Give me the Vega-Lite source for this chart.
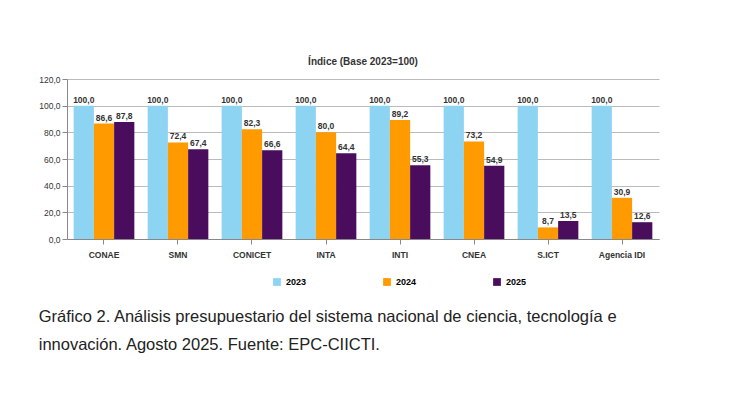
{
  "$schema": "https://vega.github.io/schema/vega-lite/v6.json",
  "background": "white",
  "padding": {"left": 38, "top": 57, "right": 10, "bottom": 5},
  "config": {
    "locale": {"number": {"decimal": ",", "thousands": ".", "grouping": [3], "currency": ["$", ""]}},
    "font": "Liberation Sans",
    "view": {"stroke": null}
  },
  "title": {
    "text": ["Gráfico 2. Análisis presupuestario del sistema nacional de ciencia, tecnología e", "innovación. Agosto 2025. Fuente: EPC-CIICTI."],
    "orient": "bottom",
    "anchor": "start",
    "frame": "bounds",
    "fontSize": 16.5,
    "fontWeight": "normal",
    "lineHeight": 28,
    "offset": 22,
    "color": "#222"
  },
  "vconcat": [
    {
      "title": {"text": "Índice (Base 2023=100)", "fontSize": 10, "fontWeight": "bold", "color": "#333", "offset": 8},
      "width": 592,
      "height": 160,
      "data": {
        "values": [
          {"org": "CONAE", "year": "2023", "value": 100.0},
          {"org": "CONAE", "year": "2024", "value": 86.6},
          {"org": "CONAE", "year": "2025", "value": 87.8},
          {"org": "SMN", "year": "2023", "value": 100.0},
          {"org": "SMN", "year": "2024", "value": 72.4},
          {"org": "SMN", "year": "2025", "value": 67.4},
          {"org": "CONICET", "year": "2023", "value": 100.0},
          {"org": "CONICET", "year": "2024", "value": 82.3},
          {"org": "CONICET", "year": "2025", "value": 66.6},
          {"org": "INTA", "year": "2023", "value": 100.0},
          {"org": "INTA", "year": "2024", "value": 80.0},
          {"org": "INTA", "year": "2025", "value": 64.4},
          {"org": "INTI", "year": "2023", "value": 100.0},
          {"org": "INTI", "year": "2024", "value": 89.2},
          {"org": "INTI", "year": "2025", "value": 55.3},
          {"org": "CNEA", "year": "2023", "value": 100.0},
          {"org": "CNEA", "year": "2024", "value": 73.2},
          {"org": "CNEA", "year": "2025", "value": 54.9},
          {"org": "S.ICT", "year": "2023", "value": 100.0},
          {"org": "S.ICT", "year": "2024", "value": 8.7},
          {"org": "S.ICT", "year": "2025", "value": 13.5},
          {"org": "Agencia IDI", "year": "2023", "value": 100.0},
          {"org": "Agencia IDI", "year": "2024", "value": 30.9},
          {"org": "Agencia IDI", "year": "2025", "value": 12.6}
        ]
      },
      "encoding": {
        "x": {
          "field": "org", "type": "nominal", "sort": null, "title": null,
          "scale": {"paddingInner": 0.18, "paddingOuter": 0.09},
          "axis": {"labelAngle": 0, "labelFontSize": 8.5, "labelFontWeight": "bold", "labelColor": "#333", "domainColor": "#888", "tickColor": "#888", "ticks": true, "labelPadding": 6}
        },
        "xOffset": {"field": "year", "type": "nominal"},
        "y": {
          "field": "value", "type": "quantitative", "title": null,
          "scale": {"domain": [0, 120]},
          "axis": {"values": [0, 20, 40, 60, 80, 100, 120], "format": ",.1f", "labelFontSize": 8.5, "labelColor": "#333", "gridColor": "#bbb", "domainColor": "#888", "tickColor": "#888"}
        }
      },
      "layer": [
        {
          "mark": {"type": "bar"},
          "encoding": {
            "color": {
              "field": "year", "type": "nominal", "title": null,
              "scale": {"domain": ["2023", "2024", "2025"], "range": ["#8dd3f2", "#ff9a00", "#4a0d5e"]},
              "legend": {"orient": "none", "legendX": 205, "legendY": 198, "direction": "horizontal", "symbolType": "square", "labelFontSize": 9, "labelFontWeight": "bold", "columnPadding": 75, "symbolSize": 60}
            }
          }
        },
        {
          "mark": {"type": "text", "dy": -6, "fontSize": 8.5, "fontWeight": "bold", "color": "#333"},
          "encoding": {"text": {"field": "value", "type": "quantitative", "format": ",.1f"}}
        }
      ]
    }
  ]
}
